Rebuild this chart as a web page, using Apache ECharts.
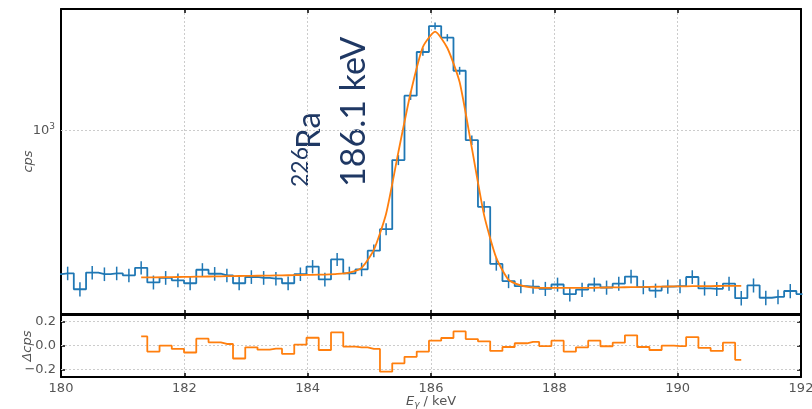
<!DOCTYPE html>
<html>
<head>
<meta charset="utf-8">
<script src="https://cdn.jsdelivr.net/npm/echarts@6/dist/echarts.min.js"></script>
<style>
  html, body { margin: 0; padding: 0; background: #ffffff; }
  #chart { width: 812px; height: 409px; }
</style>
</head>
<body>
<div id="chart"></div>
<script>
// Channel centres (keV) of the spectrum around the 186 keV line
const energies = [
  179.910, 180.108, 180.307, 180.506, 180.704, 180.903, 181.101, 181.300, 181.499, 181.697,
  181.896, 182.094, 182.293, 182.492, 182.690, 182.889, 183.087, 183.286, 183.485, 183.683,
  183.882, 184.080, 184.279, 184.478, 184.676, 184.875, 185.073, 185.272, 185.471, 185.669,
  185.868, 186.066, 186.265, 186.464, 186.662, 186.861, 187.059, 187.258, 187.457, 187.655,
  187.854, 188.052, 188.251, 188.450, 188.648, 188.847, 189.045, 189.244, 189.443, 189.641,
  189.840, 190.038, 190.237, 190.436, 190.634, 190.833, 191.031, 191.230, 191.429, 191.627,
  191.826, 192.024
];

// Measured count rate per channel (cps)
const counts = [
  463, 465, 427, 467, 463, 465, 460, 479, 443, 454,
  448, 441, 474, 464, 460, 441, 456, 454, 452, 441,
  463, 482, 450, 501, 465, 475, 525, 589, 853, 1204,
  1521, 1748, 1642, 1376, 949, 664, 489, 446, 434, 433,
  428, 438, 416, 426, 438, 431, 440, 457, 432, 424,
  433, 434, 456, 429, 428, 440, 407, 436, 408, 410,
  423, 416
];

// One-sigma uncertainty of each count rate (cps)
const countErr = [
  16.9, 16.9, 16.2, 16.9, 16.9, 16.9, 16.8, 17.1, 16.5, 16.7,
  16.6, 16.4, 17.0, 16.9, 16.8, 16.4, 16.7, 16.7, 16.6, 16.4,
  16.8, 17.2, 16.6, 17.5, 16.9, 17.1, 17.9, 19.0, 22.9, 27.2,
  30.5, 32.7, 31.7, 29.0, 24.1, 20.2, 17.3, 16.5, 16.3, 16.3,
  16.2, 16.4, 16.0, 16.2, 16.4, 16.3, 16.4, 16.7, 16.3, 16.1,
  16.3, 16.3, 16.7, 16.2, 16.2, 16.4, 15.8, 16.4, 15.8, 15.9,
  16.1, 16.0
];

// Fitted peak model over the fit window (channels 181.3 - 191.0 keV)
const fitEnergies = energies.slice(7, 57);
const fitValues = [
  455, 455, 455.5, 456, 456.4, 456.9, 457.4, 457.9, 458.4, 458.8,
  459.3, 459.8, 460.3, 460.8, 461.3, 462, 463.4, 467, 479, 527,
  640, 890, 1221, 1562, 1697, 1554, 1295, 910, 635, 505,
  449, 436, 431, 430, 430, 430, 430, 430.5, 431, 431.4,
  431.9, 432.3, 432.8, 433.3, 433.7, 434, 434.2, 434.5, 434.7, 434.9
];

// Fit residuals over the same window
const residuals = [
  0.074, -0.052, -0.003, -0.030, -0.060, 0.055, 0.025, 0.011, -0.110, -0.017,
  -0.036, -0.028, -0.072, 0.006, 0.063, -0.039, 0.107, -0.011, -0.017, -0.030,
  -0.220, -0.150, -0.096, -0.052, 0.039, 0.061, 0.116, 0.052, 0.033, -0.047,
  -0.014, 0.017, 0.028, -0.006, 0.039, -0.052, -0.017, 0.039, -0.008, 0.022,
  0.083, -0.014, -0.039, -0.003, -0.006, 0.069, -0.022, -0.047, 0.022, -0.121
];

const xTicks = [180, 182, 184, 186, 188, 190, 192];
const mainYTicks = [1000];
const residTicks = [-0.2, 0, 0.2];

const FONT = 'DejaVu Sans';
const NOTE_FONT = 'Lato';
const NOTE_COLOR = '#1f3864';
const BLUE = '#1f77b4';
const ORANGE = '#ff7f0e';
const FRAME = { color: '#000000', width: 2 };
const GRID_LINE = { color: '#cccccc', type: [2, 2], width: 1 };
const LABEL_COLOR = '#555555';

const chart = echarts.init(document.getElementById('chart'), null, { renderer: 'canvas' });

function frameX(grid, pos, withLabels) {
  return {
    gridIndex: grid, type: 'value', position: pos,
    min: xTicks[0], max: xTicks[xTicks.length - 1], interval: 2,
    axisLine: { show: true, onZero: false, lineStyle: FRAME },
    axisTick: { show: true, inside: true, length: 4, lineStyle: { color: '#000', width: 1.5 } },
    axisLabel: withLabels ? {
      show: true, fontFamily: FONT, fontSize: 13, color: LABEL_COLOR, margin: 5
    } : { show: false },
    splitLine: pos === 'bottom' ? { show: true, lineStyle: GRID_LINE } : { show: false }
  };
}

const option = {
  animation: false,
  backgroundColor: '#ffffff',
  grid: [
    { left: 61, right: 11, top: 9, height: 305, outerBoundsMode: 'none', containLabel: false },
    { left: 61, right: 11, top: 315, height: 62, outerBoundsMode: 'none', containLabel: false }
  ],
  xAxis: [
    frameX(0, 'bottom', false),
    frameX(0, 'top', false),
    Object.assign(frameX(1, 'bottom', true), {
      name: '{i|E}{s|γ}{n| / keV}',
      nameLocation: 'middle',
      nameGap: 17,
      nameMoveOverlap: false,
      nameTextStyle: {
        color: LABEL_COLOR, fontFamily: FONT, fontSize: 13,
        rich: {
          i: { fontFamily: FONT, fontStyle: 'italic', fontSize: 13, color: LABEL_COLOR },
          s: { fontFamily: FONT, fontStyle: 'italic', fontSize: 9, color: LABEL_COLOR, padding: [6, 0, 0, 0] },
          n: { fontFamily: FONT, fontSize: 13, color: LABEL_COLOR }
        }
      }
    }),
    frameX(1, 'top', false)
  ],
  yAxis: [
    {
      gridIndex: 0, type: 'log', logBase: 10, min: 374, max: 1915, position: 'left',
      axisLine: { show: true, onZero: false, lineStyle: FRAME },
      axisTick: { show: false },
      axisLabel: {
        show: true, customValues: mainYTicks,
        fontFamily: FONT, fontSize: 13, color: LABEL_COLOR, margin: 6,
        formatter: function (v) {
          return Math.abs(v - 1000) < 1 ? '{b|10}{e|3}' : '';
        },
        rich: {
          b: { fontFamily: FONT, fontSize: 13, color: LABEL_COLOR },
          e: { fontFamily: FONT, fontSize: 9, color: LABEL_COLOR, padding: [0, 0, 8, 0] }
        }
      },
      splitLine: { show: false },
      name: 'cps', nameLocation: 'middle', nameGap: 26, nameRotate: 90, nameMoveOverlap: false,
      nameTextStyle: { fontFamily: FONT, fontStyle: 'italic', fontSize: 13, color: LABEL_COLOR }
    },
    {
      gridIndex: 0, type: 'log', logBase: 10, min: 374, max: 1915, position: 'right',
      axisLine: { show: true, onZero: false, lineStyle: FRAME },
      axisTick: { show: false }, axisLabel: { show: false }, splitLine: { show: false }
    },
    {
      gridIndex: 1, type: 'value', min: -0.264, max: 0.2525, position: 'left',
      axisLine: { show: true, onZero: false, lineStyle: FRAME },
      axisTick: { show: true, inside: true, length: 4, customValues: residTicks, lineStyle: { color: '#000', width: 1.5 } },
      axisLabel: {
        show: true, customValues: residTicks,
        fontFamily: FONT, fontSize: 13, color: LABEL_COLOR, margin: 5,
        formatter: function (v) {
          return v < 0 ? '\u2212' + Math.abs(v).toFixed(1) : v.toFixed(1);
        }
      },
      splitLine: { show: false },
      name: 'Δcps', nameLocation: 'middle', nameGap: 27, nameRotate: 90, nameMoveOverlap: false,
      nameTextStyle: { fontFamily: FONT, fontStyle: 'italic', fontSize: 13, color: LABEL_COLOR }
    },
    {
      gridIndex: 1, type: 'value', min: -0.264, max: 0.2525, position: 'right',
      axisLine: { show: true, onZero: false, lineStyle: FRAME },
      axisTick: { show: true, inside: true, length: 4, customValues: residTicks, lineStyle: { color: '#000', width: 1.5 } },
      axisLabel: { show: false }, splitLine: { show: false }
    }
  ],
  series: [
    {
      name: 'spectrum', type: 'line', step: 'middle',
      xAxisIndex: 0, yAxisIndex: 0,
      data: energies.map((e, i) => [e, counts[i]]),
      showSymbol: false, symbol: 'none',
      lineStyle: { color: BLUE, width: 1.8 },
      clip: true, z: 3,
      markLine: {
        silent: true, symbol: ['none', 'none'], label: { show: false },
        lineStyle: GRID_LINE, z: 1,
        data: mainYTicks.map(v => ({ yAxis: v }))
      }
    },
    {
      name: 'uncertainty', type: 'custom',
      xAxisIndex: 0, yAxisIndex: 0, clip: true, z: 3,
      data: energies.map((e, i) => [e, counts[i] - countErr[i], counts[i] + countErr[i]]),
      encode: { x: 0, y: [1, 2] },
      renderItem: function (params, api) {
        const lo = api.coord([api.value(0), api.value(1)]);
        const hi = api.coord([api.value(0), api.value(2)]);
        return {
          type: 'line',
          shape: { x1: lo[0], y1: lo[1], x2: hi[0], y2: hi[1] },
          style: { stroke: BLUE, lineWidth: 1.5 }
        };
      }
    },
    {
      name: 'fit', type: 'line',
      xAxisIndex: 0, yAxisIndex: 0,
      data: fitEnergies.map((e, i) => [e, fitValues[i]]),
      showSymbol: false, symbol: 'none', smooth: 0.2,
      lineStyle: { color: ORANGE, width: 1.8 },
      z: 4
    },
    {
      name: 'residual', type: 'line', step: 'middle',
      xAxisIndex: 2, yAxisIndex: 2,
      data: fitEnergies.map((e, i) => [e, residuals[i]]),
      showSymbol: false, symbol: 'none',
      lineStyle: { color: ORANGE, width: 1.8 },
      z: 3,
      markLine: {
        silent: true, symbol: ['none', 'none'], label: { show: false },
        lineStyle: GRID_LINE, z: 1,
        data: residTicks.map(v => ({ yAxis: v }))
      }
    }
  ],
  graphic: [
    {
      type: 'text', x: 300.3, y: 187, rotation: Math.PI / 2,
      style: { text: '226', fontFamily: NOTE_FONT, fontSize: 23, fill: NOTE_COLOR, align: 'left', verticalAlign: 'middle' }
    },
    {
      type: 'text', x: 309.7, y: 149, rotation: Math.PI / 2,
      style: { text: 'Ra', fontFamily: NOTE_FONT, fontSize: 33, fill: NOTE_COLOR, align: 'left', verticalAlign: 'middle' }
    },
    {
      type: 'text', x: 353.9, y: 187, rotation: Math.PI / 2,
      style: { text: '186.1 keV', fontFamily: NOTE_FONT, fontSize: 34, fill: NOTE_COLOR, align: 'left', verticalAlign: 'middle' }
    }
  ]
};

chart.setOption(option);
</script>
</body>
</html>
